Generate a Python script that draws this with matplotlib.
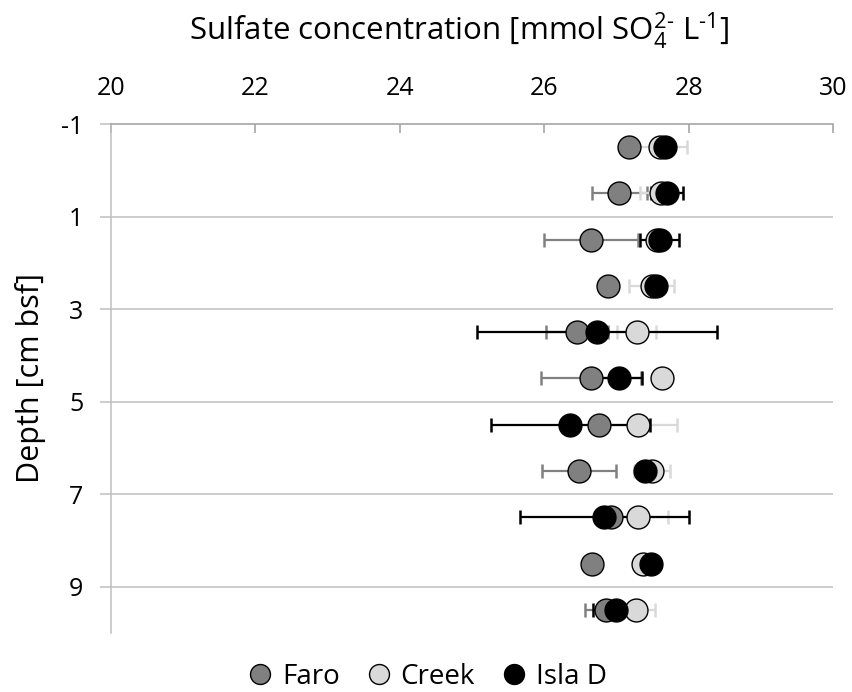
import matplotlib
matplotlib.use("Agg")
import matplotlib.pyplot as plt
import numpy as np

plt.rcParams['font.family'] = ['Open Sans', 'DejaVu Sans']
plt.rcParams['mathtext.fontset'] = 'custom'
plt.rcParams['mathtext.rm'] = 'Open Sans'
plt.rcParams['axes.unicode_minus'] = False

# Sampling depths (cm below sea floor)
depth = [-0.5, 0.5, 1.5, 2.5, 3.5, 4.5, 5.5, 6.5, 7.5, 8.5, 9.5]

# Sulfate concentration (mmol/L) and standard deviations per site
faro = [27.17, 27.04, 26.65, 26.88, 26.45, 26.65, 26.76, 26.48, 26.93, 26.66, 26.86]
faro_err = [0.10, 0.38, 0.65, 0.10, 0.43, 0.69, 0.10, 0.51, 0.10, 0.10, 0.29]

creek = [27.60, 27.62, 27.56, 27.49, 27.28, 27.63, 27.30, 27.49, 27.30, 27.37, 27.27]
creek_err = [0.38, 0.30, 0.10, 0.31, 0.27, 0.10, 0.54, 0.25, 0.41, 0.10, 0.26]

isla = [27.67, 27.70, 27.60, 27.55, 26.73, 27.04, 26.36, 27.39, 26.83, 27.48, 27.00]
isla_err = [0.10, 0.22, 0.27, 0.10, 1.66, 0.31, 1.10, 0.10, 1.17, 0.10, 0.32]

x_ticks = [20, 22, 24, 26, 28, 30]
y_ticks = [-1, 1, 3, 5, 7, 9]

series = [
    ("Faro", faro, faro_err, "#808080"),
    ("Creek", creek, creek_err, "#D9D9D9"),
    ("Isla D", isla, isla_err, "#000000"),
]

W, H = 853, 692
fig = plt.figure(figsize=(W / 100, H / 100), dpi=100)
ax = fig.add_axes([111 / W, 1 - 633 / H, (833 - 111) / W, (633 - 124) / H])

# error bars sit underneath every marker
for name, vals, err, col in series:
    ax.errorbar(vals, depth, xerr=err, fmt='none', ecolor=col,
                elinewidth=1.6, capsize=5, capthick=1.8, zorder=2)
for i, (name, vals, err, col) in enumerate(series):
    ax.plot(vals, depth, 'o', ms=16.5, mfc=col, mec='black', mew=1.0,
            label=name, zorder=3 + i, linestyle='none')

ax.set_xlim(20, 30)
ax.set_ylim(10, -1)
ax.set_xticks(x_ticks)
ax.set_yticks(y_ticks)
ax.xaxis.tick_top()

grid_col = '#BFBFBF'
for y in y_ticks[1:]:
    ax.axhline(y, color=grid_col, lw=1.1, zorder=0)

for s in ['right', 'bottom']:
    ax.spines[s].set_visible(False)
ax.spines['top'].set_color('#A6A6A6')
ax.spines['left'].set_color('#BFBFBF')
ax.spines['top'].set_linewidth(1.2)
ax.spines['left'].set_linewidth(1.1)

ax.tick_params(axis='x', direction='in', length=6.5, width=1.2, color='#A6A6A6',
               labelsize=18, pad=16.5)
ax.tick_params(axis='y', direction='out', length=8, width=1.1, color='#BFBFBF',
               labelsize=18, pad=12)

fig.text(0.5 * (183 + 735) / W, 1 - 40 / H,
         r'Sulfate concentration [mmol SO$_4^{2\text{-}}$ L$^{\text{-}1}$]',
         fontsize=22.5, ha='center', va='baseline')
fig.text(31 / W, 1 - 378 / H, 'Depth [cm bsf]', fontsize=22, rotation=90,
         ha='center', va='center')

ax.legend(loc='center', bbox_to_anchor=(0.5, 1 - 677 / H), bbox_transform=fig.transFigure,
          ncol=3, frameon=False, fontsize=20, handletextpad=0.3, columnspacing=0.9,
          markerscale=0.87, handlelength=1.0)

fig.savefig('out.png', dpi=100)
